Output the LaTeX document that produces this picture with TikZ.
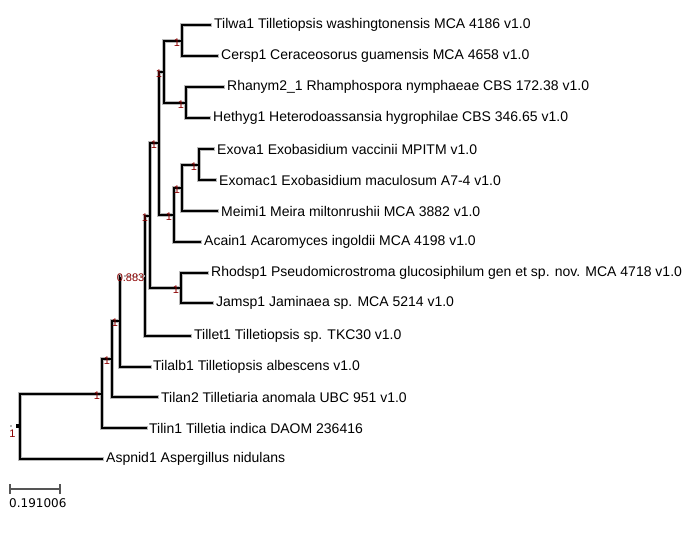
\documentclass[tikz,border=0pt]{standalone}
\usepackage{fontspec}
\setmainfont{Liberation Sans}
\newfontfamily\scalefont{DejaVu Sans}
\definecolor{suppred}{RGB}{139,0,0}
\definecolor{scalegray}{RGB}{85,85,85}
\begin{document}
\begin{tikzpicture}[x=1pt,y=-1pt,
  branch/.style={line width=2pt,black,line cap=rect},
  halo/.style={line width=3.4pt,gray!55,line cap=rect},
  dotbranch/.style={line width=2pt,gray!60,dash pattern=on 2pt off 2pt},
  leaf/.style={anchor=west,inner sep=0pt,font=\fontsize{14}{16}\selectfont},
  supp/.style={anchor=north east,inner sep=0pt,text=suppred,font=\fontsize{11}{13}\selectfont}]
\useasboundingbox (0,0) rectangle (690,535);
% internal nodes
\coordinate (nA) at (182,41);
\coordinate (nB) at (186,103);
\coordinate (nAB) at (164,72);
\coordinate (nE) at (199,165);
\coordinate (nEM) at (182,188);
\coordinate (nEMA) at (174,215);
\coordinate (nTop) at (159,143);
\coordinate (nRJ) at (181,288);
\coordinate (nX) at (150,216);
\coordinate (nY) at (145,276);
\coordinate (nZ) at (120,321);
\coordinate (nW) at (112,359);
\coordinate (nV) at (102,394);
\coordinate (root) at (20,426);
% leaf tips
\coordinate (Tilwa) at (210,25);
\coordinate (Cersp) at (217,56);
\coordinate (Rhanym) at (223,87);
\coordinate (Hethyg) at (209,118);
\coordinate (Exova) at (213,149);
\coordinate (Exomac) at (215,180);
\coordinate (Meimi) at (217,211);
\coordinate (Acain) at (200,242);
\coordinate (Rhodsp) at (207,273);
\coordinate (Jamsp) at (212,303);
\coordinate (Tillet) at (190,336);
\coordinate (Tilalb) at (150,367);
\coordinate (Tilan) at (157,397);
\coordinate (Tilin) at (146,428);
\coordinate (Aspnid) at (102,459);
% halo + branches
\foreach \s in {halo,branch}{
  \draw[\s] (nA) |- (Tilwa); \draw[\s] (nA) |- (Cersp);
  \draw[\s] (nB) |- (Rhanym); \draw[\s] (nB) |- (Hethyg);
  \draw[\s] (nAB) |- (nA); \draw[\s] (nAB) |- (nB);
  \draw[\s] (nE) |- (Exova); \draw[\s] (nE) |- (Exomac);
  \draw[\s] (nEM) |- (nE); \draw[\s] (nEM) |- (Meimi);
  \draw[\s] (nEMA) |- (nEM); \draw[\s] (nEMA) |- (Acain);
  \draw[\s] (nTop) |- (nAB); \draw[\s] (nTop) |- (nEMA);
  \draw[\s] (nRJ) |- (Rhodsp); \draw[\s] (nRJ) |- (Jamsp);
  \draw[\s] (nX) |- (nTop); \draw[\s] (nX) |- (nRJ);
  \draw[\s] (nY) |- (nX); \draw[\s] (nY) |- (Tillet);
  \draw[\s] (nZ) -- (nZ |- nY); \draw[\s] (nZ) |- (Tilalb);
  \draw[\s] (nW) |- (nZ); \draw[\s] (nW) |- (Tilan);
  \draw[\s] (nV) |- (nW); \draw[\s] (nV) |- (Tilin);
  \draw[\s] (root) |- (nV); \draw[\s] (root) |- (Aspnid);
}
\coordinate (nZY) at (nZ |- nY);
\draw[dotbranch] (nZY) -- (nY);
% root marks
\fill[black] (root) ++(-4.5,-2.5) rectangle ++(4,4.5);
\fill[gray!60] (10,425) rectangle (12,427);
\node[supp,anchor=north] (sroot) at (12.5,430) {1};
% support labels
\node[supp] (sA) at ([xshift=-1.8pt,yshift=2pt]nA) {1};
\node[supp] (sB) at ([xshift=-1.8pt,yshift=2pt]nB) {1};
\node[supp] (sAB) at ([xshift=-1.8pt,yshift=2pt]nAB) {1};
\node[supp] (sE) at ([xshift=-1.8pt,yshift=2pt]nE) {1};
\node[supp] (sEM) at ([xshift=-1.8pt,yshift=2pt]nEM) {1};
\node[supp] (sEMA) at ([xshift=-1.8pt,yshift=2pt]nEMA) {1};
\node[supp] (sTop) at ([xshift=-1.8pt,yshift=2pt]nTop) {1};
\node[supp] (sRJ) at ([xshift=-1.8pt,yshift=2pt]nRJ) {1};
\node[supp] (sX) at ([xshift=-1.8pt,yshift=2pt]nX) {1};
\node[supp] (sY) at ([xshift=-0.5pt,yshift=2pt]nY) {0.883};
\node[supp] (sZ) at ([xshift=-1.8pt,yshift=2pt]nZ) {1};
\node[supp] (sW) at ([xshift=-1.8pt,yshift=2pt]nW) {1};
\node[supp] (sV) at ([xshift=-1.8pt,yshift=2pt]nV) {1};
% leaf labels
\node[leaf] (tTilwa) at ([xshift=4pt]Tilwa) {Tilwa1 Tilletiopsis washingtonensis MCA 4186 v1.0};
\node[leaf] (tCersp) at ([xshift=4pt]Cersp) {Cersp1 Ceraceosorus guamensis MCA 4658 v1.0};
\node[leaf] (tRhanym) at ([xshift=4pt]Rhanym) {Rhanym2\_1 Rhamphospora nymphaeae CBS 172.38 v1.0};
\node[leaf] (tHethyg) at ([xshift=4pt]Hethyg) {Hethyg1 Heterodoassansia hygrophilae CBS 346.65 v1.0};
\node[leaf] (tExova) at ([xshift=4pt]Exova) {Exova1 Exobasidium vaccinii MPITM v1.0};
\node[leaf] (tExomac) at ([xshift=4pt]Exomac) {Exomac1 Exobasidium maculosum A7-4 v1.0};
\node[leaf] (tMeimi) at ([xshift=4pt]Meimi) {Meimi1 Meira miltonrushii MCA 3882 v1.0};
\node[leaf] (tAcain) at ([xshift=4pt]Acain) {Acain1 Acaromyces ingoldii MCA 4198 v1.0};
\node[leaf] (tRhodsp) at ([xshift=4pt]Rhodsp) {Rhodsp1 Pseudomicrostroma glucosiphilum gen et sp. nov. MCA 4718 v1.0};
\node[leaf] (tJamsp) at ([xshift=4pt]Jamsp) {Jamsp1 Jaminaea sp. MCA 5214 v1.0};
\node[leaf] (tTillet) at ([xshift=4pt]Tillet) {Tillet1 Tilletiopsis sp. TKC30 v1.0};
\node[leaf] (tTilalb) at ([xshift=3pt]Tilalb) {Tilalb1 Tilletiopsis albescens v1.0};
\node[leaf] (tTilan) at ([xshift=4pt]Tilan) {Tilan2 Tilletiaria anomala UBC 951 v1.0};
\node[leaf] (tTilin) at ([xshift=3pt]Tilin) {Tilin1 Tilletia indica DAOM 236416};
\node[leaf] (tAspnid) at ([xshift=4pt]Aspnid) {Aspnid1 Aspergillus nidulans};
% scale bar
\coordinate (sbL) at (10,489);
\coordinate (sbR) at (60,489);
\draw[scalegray,line width=1.5pt] (sbL) -- (sbR);
\draw[scalegray,line width=1.5pt] ([yshift=-5pt]sbL) -- ([yshift=5pt]sbL);
\draw[scalegray,line width=1.5pt] ([yshift=-5pt]sbR) -- ([yshift=5pt]sbR);
\node[anchor=west,inner sep=0pt,font=\scalefont\fontsize{12}{14}\selectfont] (sbT) at (9,503) {0.191006};
\end{tikzpicture}
\end{document}
